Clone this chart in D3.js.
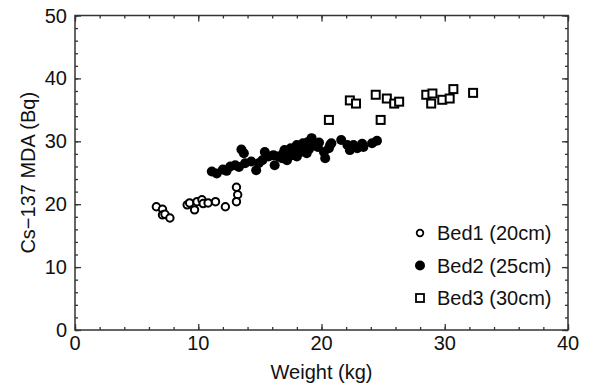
<!DOCTYPE html>
<html>
<head>
<meta charset="utf-8">
<script src="https://cdn.jsdelivr.net/npm/d3@7"></script>
<style>
  body { margin: 0; background: #fff; }
  svg text { font-family: "Liberation Sans", Arial, Helvetica, sans-serif; fill: #111; }
</style>
</head>
<body>
<div id="chart"></div>
<script>
// Bed1 (20cm) - open circles
var bed1Weight = [6.6, 7.1, 7.1, 7.3, 7.7, 9.1, 9.3, 9.7, 9.9, 10.3, 10.4, 10.8, 11.4, 12.2, 13.1, 13.2, 13.1];
var bed1Mda    = [19.6, 19.2, 18.3, 18.4, 17.8, 19.9, 20.2, 19.1, 20.4, 20.7, 20.1, 20.2, 20.4, 19.6, 22.7, 21.5, 20.4];

// Bed2 (25cm) - filled circles
var bed2Weight = [11.1, 11.5, 12.0, 12.3, 12.6, 13.0, 13.3, 13.5, 13.7, 13.8, 14.3, 14.7, 14.9, 15.2, 15.4, 15.7,
                  16.1, 16.2, 16.5, 16.8, 16.9, 17.0, 17.2, 17.2, 17.5, 17.6, 17.7, 18.0, 18.0, 18.3, 18.3, 18.5,
                  18.6, 18.8, 18.9, 19.0, 19.2, 19.5, 19.7, 19.8, 20.2, 20.3, 20.6, 20.7, 20.8, 21.6, 22.1, 22.3,
                  22.6, 22.9, 23.3, 23.4, 24.1, 24.5];
var bed2Mda    = [25.2, 24.9, 25.5, 25.3, 26.0, 26.2, 25.9, 28.7, 28.1, 26.5, 26.8, 25.4, 26.5, 27.0, 28.3, 27.6,
                  27.8, 26.2, 27.6, 27.3, 28.1, 28.6, 28.3, 27.0, 28.9, 27.8, 28.6, 29.4, 27.6, 29.1, 28.3, 29.7,
                  29.0, 28.1, 29.9, 28.8, 30.5, 29.4, 29.1, 29.8, 28.3, 27.3, 28.9, 29.4, 29.7, 30.2, 29.4, 28.6,
                  29.4, 28.9, 29.6, 29.1, 29.7, 30.1];

// Bed3 (30cm) - open squares
var bed3Weight = [20.6, 22.3, 22.8, 24.4, 24.8, 25.3, 25.9, 26.3, 28.5, 29.0, 28.9, 29.8, 30.4, 30.7, 32.3];
var bed3Mda    = [33.4, 36.5, 36.0, 37.4, 33.4, 36.8, 36.0, 36.3, 37.4, 37.6, 36.0, 36.6, 36.8, 38.3, 37.7];

var legendLabels = ["Bed1 (20cm)", "Bed2 (25cm)", "Bed3 (30cm)"];
var xTicks = [0, 10, 20, 30, 40];
var yTicks = [0, 10, 20, 30, 40, 50];

var margin = { top: 15.5, right: 32, bottom: 59, left: 75 };
var width = 600 - margin.left - margin.right,
    height = 389 - margin.top - margin.bottom;

var svg = d3.select('#chart').append('svg')
    .attr('width', 600)
    .attr('height', 389);
var g = svg.append('g')
    .attr('transform', 'translate(' + margin.left + ',' + margin.top + ')');

var x = d3.scaleLinear().domain([0, 40]).range([0, width]);
var y = d3.scaleLinear().domain([0, 50]).range([height, 0]);

var minorX = d3.range(0, 41, 2), minorY = d3.range(0, 51, 2);

// axes with inward ticks on all four sides
function styleAxis(sel) {
    sel.select('.domain').remove();
    sel.selectAll('line').attr('stroke', '#333').attr('stroke-width', 1.3);
    sel.selectAll('text').remove();
}
g.append('g').attr('transform', 'translate(0,' + height + ')')
    .call(d3.axisBottom(x).tickValues(minorX).tickSize(-3)).call(styleAxis);
g.append('g').attr('transform', 'translate(0,' + height + ')')
    .call(d3.axisBottom(x).tickValues(xTicks).tickSize(-6)).call(styleAxis);
g.append('g')
    .call(d3.axisTop(x).tickValues(minorX).tickSize(-3)).call(styleAxis);
g.append('g')
    .call(d3.axisTop(x).tickValues(xTicks).tickSize(-6)).call(styleAxis);
g.append('g')
    .call(d3.axisLeft(y).tickValues(minorY).tickSize(-3)).call(styleAxis);
g.append('g')
    .call(d3.axisLeft(y).tickValues(yTicks).tickSize(-6)).call(styleAxis);
g.append('g').attr('transform', 'translate(' + width + ',0)')
    .call(d3.axisRight(y).tickValues(minorY).tickSize(-3)).call(styleAxis);
g.append('g').attr('transform', 'translate(' + width + ',0)')
    .call(d3.axisRight(y).tickValues(yTicks).tickSize(-6)).call(styleAxis);

g.append('rect')
    .attr('width', width).attr('height', height)
    .attr('fill', 'none').attr('stroke', '#333').attr('stroke-width', 1.5);

// tick labels
g.selectAll('.xl').data(xTicks).enter().append('text')
    .attr('x', function(d) { return x(d); })
    .attr('y', height + 20)
    .attr('text-anchor', 'middle')
    .style('font-size', '20px')
    .text(function(d) { return d; });
g.selectAll('.yl').data(yTicks).enter().append('text')
    .attr('x', -8)
    .attr('y', function(d) { return y(d) + 7; })
    .attr('text-anchor', 'end')
    .style('font-size', '20px')
    .text(function(d) { return d; });

// axis titles
g.append('text')
    .attr('x', width / 2).attr('y', height + 49)
    .attr('text-anchor', 'middle')
    .style('font-size', '20px')
    .text('Weight (kg)');
g.append('text')
    .attr('transform', 'translate(-40,' + (height / 2) + ') rotate(-90)')
    .attr('text-anchor', 'middle')
    .style('font-size', '20px')
    .text('Cs\u2212137 MDA (Bq)');

// points
g.selectAll('.b2').data(bed2Weight).enter().append('circle')
    .attr('cx', function(d) { return x(d); })
    .attr('cy', function(d, i) { return y(bed2Mda[i]); })
    .attr('r', 5)
    .attr('fill', '#000');
g.selectAll('.b1').data(bed1Weight).enter().append('circle')
    .attr('cx', function(d) { return x(d); })
    .attr('cy', function(d, i) { return y(bed1Mda[i]); })
    .attr('r', 3.7)
    .attr('fill', '#fff')
    .attr('stroke', '#000').attr('stroke-width', 2);
g.selectAll('.b3').data(bed3Weight).enter().append('rect')
    .attr('x', function(d) { return x(d) - 4; })
    .attr('y', function(d, i) { return y(bed3Mda[i]) - 4; })
    .attr('width', 8).attr('height', 8)
    .attr('fill', '#fff')
    .attr('stroke', '#000').attr('stroke-width', 2);

// legend
var legend = svg.append('g').attr('transform', 'translate(420,233)');
legend.selectAll('text').data(legendLabels).enter().append('text')
    .attr('x', 17).attr('y', function(d, i) { return i * 32.5 + 7; })
    .style('font-size', '20px')
    .text(function(d) { return d; });
legend.append('circle').attr('cx', 0).attr('cy', 0).attr('r', 3.3)
    .attr('fill', '#fff').attr('stroke', '#000').attr('stroke-width', 1.8);
legend.append('circle').attr('cx', 0).attr('cy', 32.5).attr('r', 5)
    .attr('fill', '#000');
legend.append('rect').attr('x', -4).attr('y', 65 - 4).attr('width', 8).attr('height', 8)
    .attr('fill', '#fff').attr('stroke', '#000').attr('stroke-width', 1.8);
</script>
</body>
</html>
